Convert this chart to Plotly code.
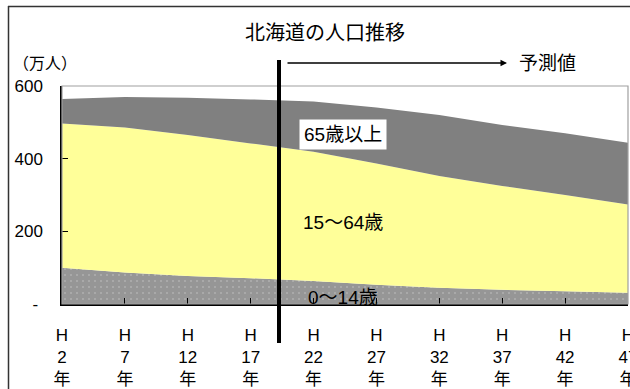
import plotly.graph_objects as go

# 北海道の人口推移（万人）
years = ["2", "7", "12", "17", "22", "27", "32", "37", "42", "47"]
age_0_14 = [100, 87, 77, 71, 63, 53, 45, 39, 35, 31]
age_15_64 = [397, 399, 388, 371, 356, 334, 307, 286, 265, 243]
age_65_over = [67, 84, 103, 121, 138, 154, 168, 168, 170, 170]

y_tickvals = [0, 200, 400, 600]
y_ticktext = ["-\u00a0", "200", "400", "600"]

FONT = "Liberation Sans, Arial, Noto Sans CJK JP, sans-serif"

W, H = 630, 389
L, R, T, B = 62, 2, 86, 85
PW, PH = W - L - R, H - T - B


def px(x):
    return (x - L) / PW


def py(y):
    return (H - B - y) / PH


xs = list(range(len(years)))

fig = go.Figure()
fig.add_trace(go.Scatter(
    x=xs, y=age_0_14, stackgroup="pop", mode="none",
    fillcolor="#969696",
    fillpattern=dict(shape=".", fgcolor="#f4f4f4", bgcolor="#969696",
                     size=6, solidity=0.05),
    name="0～14歳",
))
fig.add_trace(go.Scatter(
    x=xs, y=age_15_64, stackgroup="pop", mode="none",
    fillcolor="#FFFF99", name="15～64歳",
))
fig.add_trace(go.Scatter(
    x=xs, y=age_65_over, stackgroup="pop", mode="none",
    fillcolor="#808080", name="65歳以上",
))

fig.update_layout(
    width=W, height=H,
    margin=dict(l=L, r=R, t=T, b=B),
    paper_bgcolor="white", plot_bgcolor="white",
    showlegend=False,
    font=dict(family=FONT, size=17, color="black"),
)

fig.update_xaxes(
    range=[0, len(years) - 1],
    tickvals=xs,
    ticktext=[f"H<br>{y}<br>年" for y in years],
    ticks="inside", ticklen=6, tickcolor="black", tickwidth=1,
    showline=True, linecolor="black", linewidth=1.5,
    showgrid=False, zeroline=False,
    ticklabelstandoff=15,
    ticklabeloverflow="allow",
    automargin=False,
    tickfont=dict(size=17),
)
fig.update_yaxes(
    range=[0, 600],
    tickvals=y_tickvals, ticktext=y_ticktext,
    ticks="inside", ticklen=6, tickcolor="black", tickwidth=1,
    showline=True, linecolor="black", linewidth=1.5,
    showgrid=False, zeroline=False,
    ticklabelstandoff=14,
    ticklabeloverflow="allow",
    automargin=False,
    tickfont=dict(size=17),
)

shapes = [
    # plot area border
    dict(type="rect", xref="paper", yref="paper", x0=0, y0=0, x1=1, y1=1,
         line=dict(color="#a0a0a0", width=1.2), layer="above"),
    # outer chart frame (top and left edges)
    dict(type="line", xref="paper", yref="paper",
         x0=px(8), x1=px(630), y0=py(6.5), y1=py(6.5),
         line=dict(color="#333333", width=1.5), layer="above"),
    dict(type="line", xref="paper", yref="paper",
         x0=px(8.5), x1=px(8.5), y0=py(6), y1=py(389),
         line=dict(color="#333333", width=1.5), layer="above"),
    # boundary between actual and projected values
    dict(type="line", xref="paper", yref="paper",
         x0=px(279), x1=px(279), y0=py(60), y1=py(343),
         line=dict(color="black", width=4), layer="above"),
]
fig.update_layout(shapes=shapes)

annotations = [
    dict(text="北海道の人口推移", x=px(325), y=py(33), xref="paper", yref="paper",
         xanchor="center", yanchor="middle", showarrow=False, font=dict(size=20)),
    dict(text="（万人）", x=px(11), y=py(63), xref="paper", yref="paper",
         xanchor="left", yanchor="middle", showarrow=False, font=dict(size=16)),
    dict(text="", x=px(507), y=py(63), ax=-(507 - 286), ay=0,
         xref="paper", yref="paper", axref="pixel", ayref="pixel",
         showarrow=True, arrowhead=2, arrowsize=1, arrowwidth=1.3,
         arrowcolor="black"),
    dict(text="予測値", x=px(517), y=py(63), xref="paper", yref="paper",
         xanchor="left", yanchor="middle", showarrow=False, font=dict(size=19)),
    dict(text="65歳以上", x=px(343), y=py(134), xref="paper", yref="paper",
         xanchor="center", yanchor="middle", showarrow=False,
         bgcolor="white", borderpad=4, font=dict(size=19)),
    dict(text="15～64歳", x=px(343), y=py(222), xref="paper", yref="paper",
         xanchor="center", yanchor="middle", showarrow=False, font=dict(size=19)),
    dict(text="0～14歳", x=px(343), y=py(297), xref="paper", yref="paper",
         xanchor="center", yanchor="middle", showarrow=False, font=dict(size=19)),
]
fig.update_layout(annotations=annotations)

fig.write_html("out.html")
